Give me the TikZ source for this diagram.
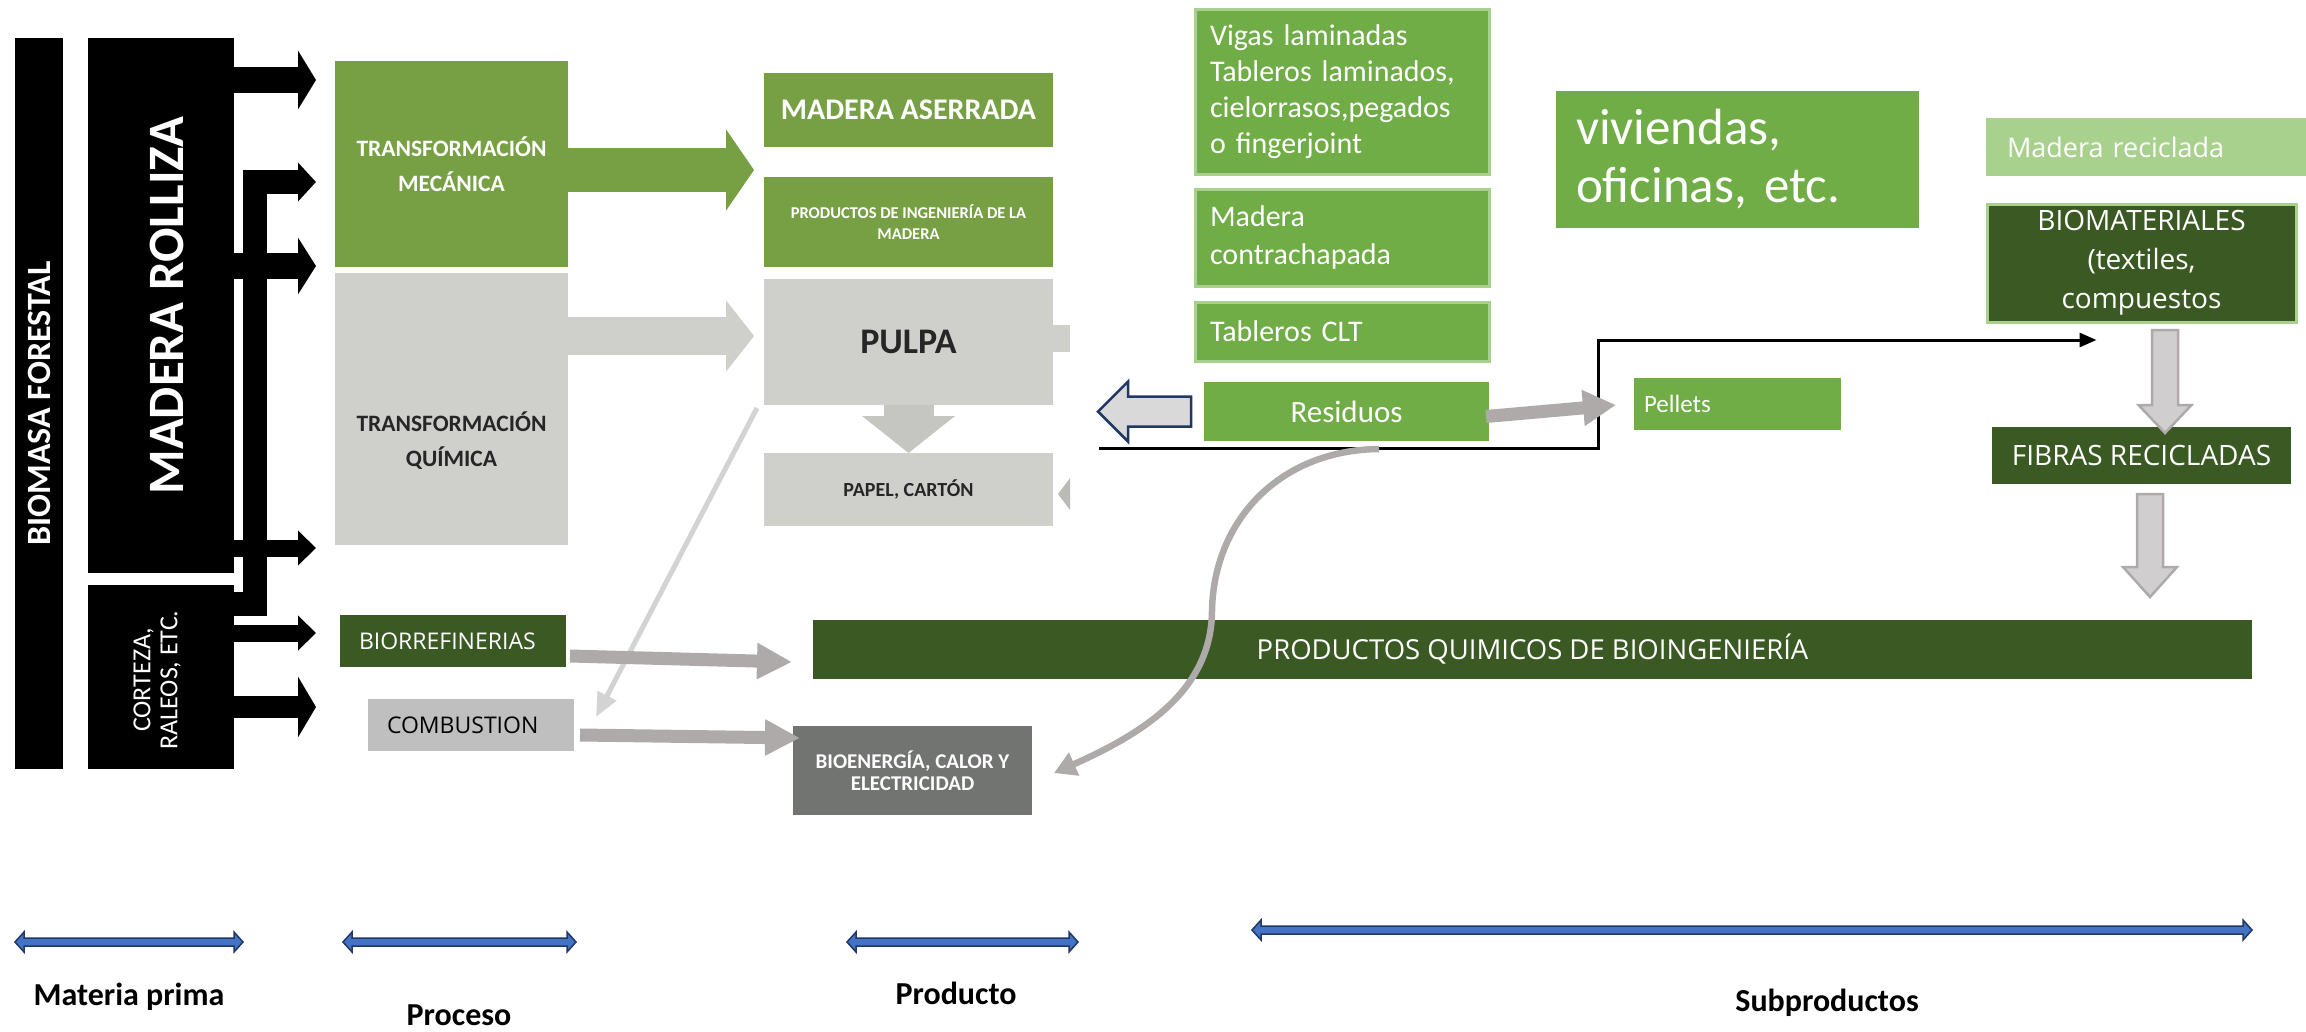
\documentclass[tikz,border=0pt]{standalone}
\usepackage{fontspec}
\setmainfont{Carlito}
\newfontfamily\opensans{Open Sans}
\usepackage{tikz}
\usetikzlibrary{arrows.meta,calc,positioning}
\definecolor{mechgreen}{HTML}{76A043}
\definecolor{pulpgray}{HTML}{CFD0CB}
\definecolor{leafgreen}{HTML}{70AD47}
\definecolor{paleleaf}{HTML}{A9D18E}
\definecolor{darkleaf}{HTML}{3B5A23}
\definecolor{combgray}{HTML}{BFBFBF}
\definecolor{energygray}{HTML}{727472}
\definecolor{flowgray}{HTML}{AEAAAA}
\definecolor{thingray}{HTML}{D3D3D3}
\definecolor{spannavy}{HTML}{1F3864}
\definecolor{spanblue}{HTML}{4472C4}
\definecolor{backfill}{HTML}{D9D9D9}
\definecolor{downfill}{HTML}{D0CECE}
\definecolor{inkdark}{HTML}{262626}

\begin{document}
\begin{tikzpicture}[x=1pt, y=-1pt,
  box/.style={rectangle, inner sep=0pt, outer sep=0pt, align=center},
  blk/.style={draw=black, -{Triangle[length=18pt, width=#1]}},
  flowarrow/.style={draw=flowgray, line width=13pt, -{Triangle[length=35pt, width=34pt]}},
  backarrow/.style={fill=backfill, draw=spannavy, line width=2.5pt, line join=miter},
  downarrow/.style={fill=downfill, draw=flowgray, line width=2.5pt},
  leftbox/.style={box, align=left, inner xsep=20pt, text=white},
  spanarrow/.style={fill=spanblue, draw=spannavy, line width=1.5pt,
    to path={-- ++(9,-10) -- ++(0,6) -- ($(\tikztotarget)+(-9,-4)$) -- ++(0,-6) -- (\tikztotarget)
      -- ++(-9,10) -- ++(0,-6) -- ($(\tikztostart)+(9,4)$) -- ++(0,6) -- cycle}},
  caption/.style={font=\bfseries\fontsize{32}{38}\selectfont}]
  \useasboundingbox (0,0) rectangle (2306,1031);

  % materia prima
  \node[box, fill=black, minimum width=48pt, minimum height=731pt] (bioforest) at (39,403.5) {};
  \node[box, fill=black, minimum width=146pt, minimum height=535pt] (rolliza) at (161,305.5) {};
  \node[box, fill=black, minimum width=146pt, minimum height=184pt] (corteza) at (161,677) {};
  \node[rotate=90, text=white, font=\bfseries\fontsize{34}{40}\selectfont] at (bioforest.center) {BIOMASA FORESTAL};
  \node[rotate=90, text=white, font=\bfseries\fontsize{51}{58}\selectfont] at ($(rolliza.center)+(6,0)$) {MADERA ROLLIZA};
  \node[rotate=90, text=white, align=center, font=\fontsize{26}{27}\selectfont] at ($(corteza.center)+(-4,3)$) {CORTEZA,\\RALEOS, ETC.};

  % proceso
  \node[box, fill=mechgreen, minimum width=233pt, minimum height=206pt, text=white,
        font=\bfseries\fontsize{23.5}{35}\selectfont] (tm) at (451.5,164) {TRANSFORMACIÓN\\MECÁNICA};
  \node[box, fill=pulpgray, minimum width=233pt, minimum height=272pt] (tq) at (451.5,409) {};
  \node[align=center, text=inkdark, font=\bfseries\fontsize{23.5}{35}\selectfont] at ($(tq.center)+(0,32)$) {TRANSFORMACIÓN\\QUÍMICA};
  \node[box, fill=darkleaf, minimum width=226pt, minimum height=52pt, text width=188pt, inner xsep=19pt,
        align=left, text=white, font=\opensans\fontsize{23}{28}\selectfont] (biorref) at (453,641) {BIORREFINERIAS};
  \node[box, fill=combgray, minimum width=206pt, minimum height=52pt, text width=168pt, inner xsep=19pt,
        align=left, text=black, font=\opensans\fontsize{23}{28}\selectfont] (comb) at (471,725) {COMBUSTION};

  % black arrows
  \coordinate (tipx) at (316,0);
  \foreach \y/\s/\h in {80/26/58, 266/26/56, 548/17/34}
    \draw[blk=\h pt, line width=\s pt] (rolliza.east |- 0,\y) -- (tipx |- 0,\y);
  \foreach \y/\s/\h in {633/17/34, 707/22/60}
    \draw[blk=\h pt, line width=\s pt] (corteza.east |- 0,\y) -- (tipx |- 0,\y);
  \draw[blk=38pt, line width=24pt] (corteza.east |- 0,604) -- ++(20.5,0) |- (tipx |- 0,182);

  % producto
  \node[box, fill=mechgreen, minimum width=289pt, minimum height=74pt, text=white,
        font=\bfseries\fontsize{30}{36}\selectfont] (ma) at (908.5,110) {MADERA ASERRADA};
  \node[box, fill=mechgreen, minimum width=289pt, minimum height=90pt, text=white,
        font=\bfseries\fontsize{16.5}{21}\selectfont] (pim) at (908.5,222) {PRODUCTOS DE INGENIERÍA DE LA\\MADERA};
  \node[box, fill=pulpgray, minimum width=289pt, minimum height=126pt, text=inkdark,
        font=\bfseries\fontsize{36}{42}\selectfont] (pulpa) at (908.5,342) {PULPA};
  \node[box, fill=pulpgray, minimum width=289pt, minimum height=73pt, text=inkdark,
        font=\bfseries\fontsize{20}{24}\selectfont] (papel) at (908.5,489.5) {PAPEL, CARTÓN};
  \fill[pulpgray] (pulpa.east |- 0,325) rectangle ++(17,27);
  \fill[pulpgray!90!black] ($(papel.east)+(17,-11.5)$) -- ++(-12,16) -- ++(12,16) -- cycle;
  \node[box, fill=darkleaf, minimum width=1439pt, minimum height=59pt, text=white,
        font=\opensans\fontsize{27.5}{33}\selectfont] (pq) at (1532.5,649.5) {PRODUCTOS QUIMICOS DE BIOINGENIERÍA};
  \node[box, fill=energygray, minimum width=239pt, minimum height=89pt, text=white,
        font=\bfseries\fontsize{21}{22}\selectfont] (bioen) at (912.5,770.5) {BIOENERGÍA, CALOR Y\\ELECTRICIDAD};

  \draw[mechgreen, line width=44pt, -{Triangle[length=28pt, width=80pt]}, shorten >=10pt] (tm.east |- 0,170) -- (ma.west |- 0,170);
  \draw[pulpgray, line width=38pt, -{Triangle[length=28pt, width=70pt]}, shorten >=10pt] (tq.east |- 0,336) -- (pulpa.west |- 0,336);
  \draw[pulpgray!95!black, line width=50pt, -{Triangle[length=37pt, width=91pt]}] (pulpa.south) -- (papel.north);
  \draw[thingray, line width=5pt, -{Triangle[length=24pt, width=20pt]}] ($(pulpa.south west)+(-7,3)$) -- ($(comb.north east)+(22,18)$);
  \draw[flowarrow] ($(biorref.east)+(4,15)$) -- ($(pq.west)+(-21,12.5)$);
  \draw[flowarrow] ($(comb.east)+(6,10)$) -- ($(bioen.north west)+(7,12)$);

  % subproductos
  \node[leftbox, fill=leafgreen, draw=paleleaf, line width=3pt, minimum width=294pt, minimum height=165pt, text width=264pt,
        inner xsep=15pt, font=\fontsize{30}{36}\selectfont] (vigas) at (1342,91.5) {\hyphenpenalty=10000 Vigas laminadas\\Tableros laminados,\\cielorrasos,pegados\\o fingerjoint};
  \node[leftbox, fill=leafgreen, draw=paleleaf, line width=3pt, minimum width=294pt, minimum height=97pt, text width=264pt,
        inner xsep=15pt, font=\fontsize{30}{38}\selectfont] (contra) at (1342,237.5) {Madera\\contrachapada};
  \node[leftbox, fill=leafgreen, draw=paleleaf, line width=3pt, minimum width=294pt, minimum height=59pt, text width=264pt,
        inner xsep=15pt, font=\fontsize{30}{38}\selectfont] (clt) at (1342,331.5) {Tableros CLT};
  \node[box, fill=leafgreen, minimum width=285pt, minimum height=59pt, text=white,
        font=\fontsize{31}{36}\selectfont] (resid) at (1346.5,411.5) {Residuos};
  \node[leftbox, fill=leafgreen, minimum width=207pt, minimum height=52pt, text width=187pt, inner xsep=10pt,
        font=\fontsize{25}{30}\selectfont] (pellets) at (1737.5,404) {Pellets};
  \node[leftbox, fill=leafgreen, minimum width=363pt, minimum height=137pt, text width=323pt,
        font=\fontsize{51}{58}\selectfont] (viv) at (1737.5,159.5) {viviendas,\\oficinas, etc.};
  \node[leftbox, fill=paleleaf, minimum width=320pt, minimum height=58pt, text width=278pt, inner xsep=21pt,
        font=\opensans\fontsize{27}{32}\selectfont] (mrec) at (2146,147) {Madera reciclada};
  \node[box, fill=darkleaf, draw=paleleaf, line width=3pt, minimum width=309pt, minimum height=118pt, text=white,
        font=\opensans\fontsize{28}{39}\selectfont] (bio) at (2141.5,263) {BIOMATERIALES\\(textiles,\\compuestos};
  \node[box, fill=darkleaf, minimum width=299pt, minimum height=57pt, text=white,
        font=\opensans\fontsize{28}{33}\selectfont] (fib) at (2141.5,455.5) {FIBRAS RECICLADAS};

  \draw[backarrow] ($(resid.west)+(-13,-15)$) -- ++(-63,0) -- ++(0,-15) -- ++(-30,30) -- ++(30,30) -- ++(0,-15) -- ++(63,0) -- cycle;
  \coordinate (wasteline) at (1099,448);
  \draw[line width=3pt, -{Triangle[length=17pt, width=14pt]}] (wasteline) -- ($(resid.south east)+(109,7)$) |- ($(bio.south)+(-45,18)$);
  \draw[flowarrow, -{Triangle[length=33pt, width=34pt]}] ($(resid.east)+(-3,5)$) -- ($(pellets.west)+(-18,1)$);
  \draw[flowgray, line width=6.5pt, -{Triangle[length=22pt, width=24pt]}] ($(resid.south)+(32.5,8)$)
    .. controls (1280,450) and (1214,520) .. (1212,610)
    .. controls (1212,690) and (1144,733) .. ($(bioen.east)+(22,2.5)$);
  \draw[downarrow] ($(bio.south)+(10.5,8)$) -- ++(26,0) -- ++(0,75) -- ++(13.5,0) -- ++(-26.5,28) -- ++(-26.5,-28) -- ++(13.5,0) -- cycle;
  \draw[downarrow] ($(fib.south)+(-4.5,10)$) -- ++(26,0) -- ++(0,73) -- ++(14,0) -- ++(-27,30) -- ++(-27,-30) -- ++(14,0) -- cycle;

  % escala inferior
  \coordinate (m1) at (15,942);   \coordinate (m2) at (243,942);
  \coordinate (p1) at (343,942);  \coordinate (p2) at (576,942);
  \coordinate (r1) at (847,942);  \coordinate (r2) at (1078,942);
  \coordinate (s1) at (1252,930); \coordinate (s2) at (2252,930);
  \draw[spanarrow] (m1) to (m2);
  \draw[spanarrow] (p1) to (p2);
  \draw[spanarrow] (r1) to (r2);
  \draw[spanarrow] (s1) to (s2);
  \node[caption] (lmat) at (129,997) {Materia prima};
  \node[caption] (lproc) at (459,1015) {Proceso};
  \node[caption] (lprod) at (956,993) {Producto};
  \node[caption] (lsub) at (1827,1003) {Subproductos};
\end{tikzpicture}
\end{document}
